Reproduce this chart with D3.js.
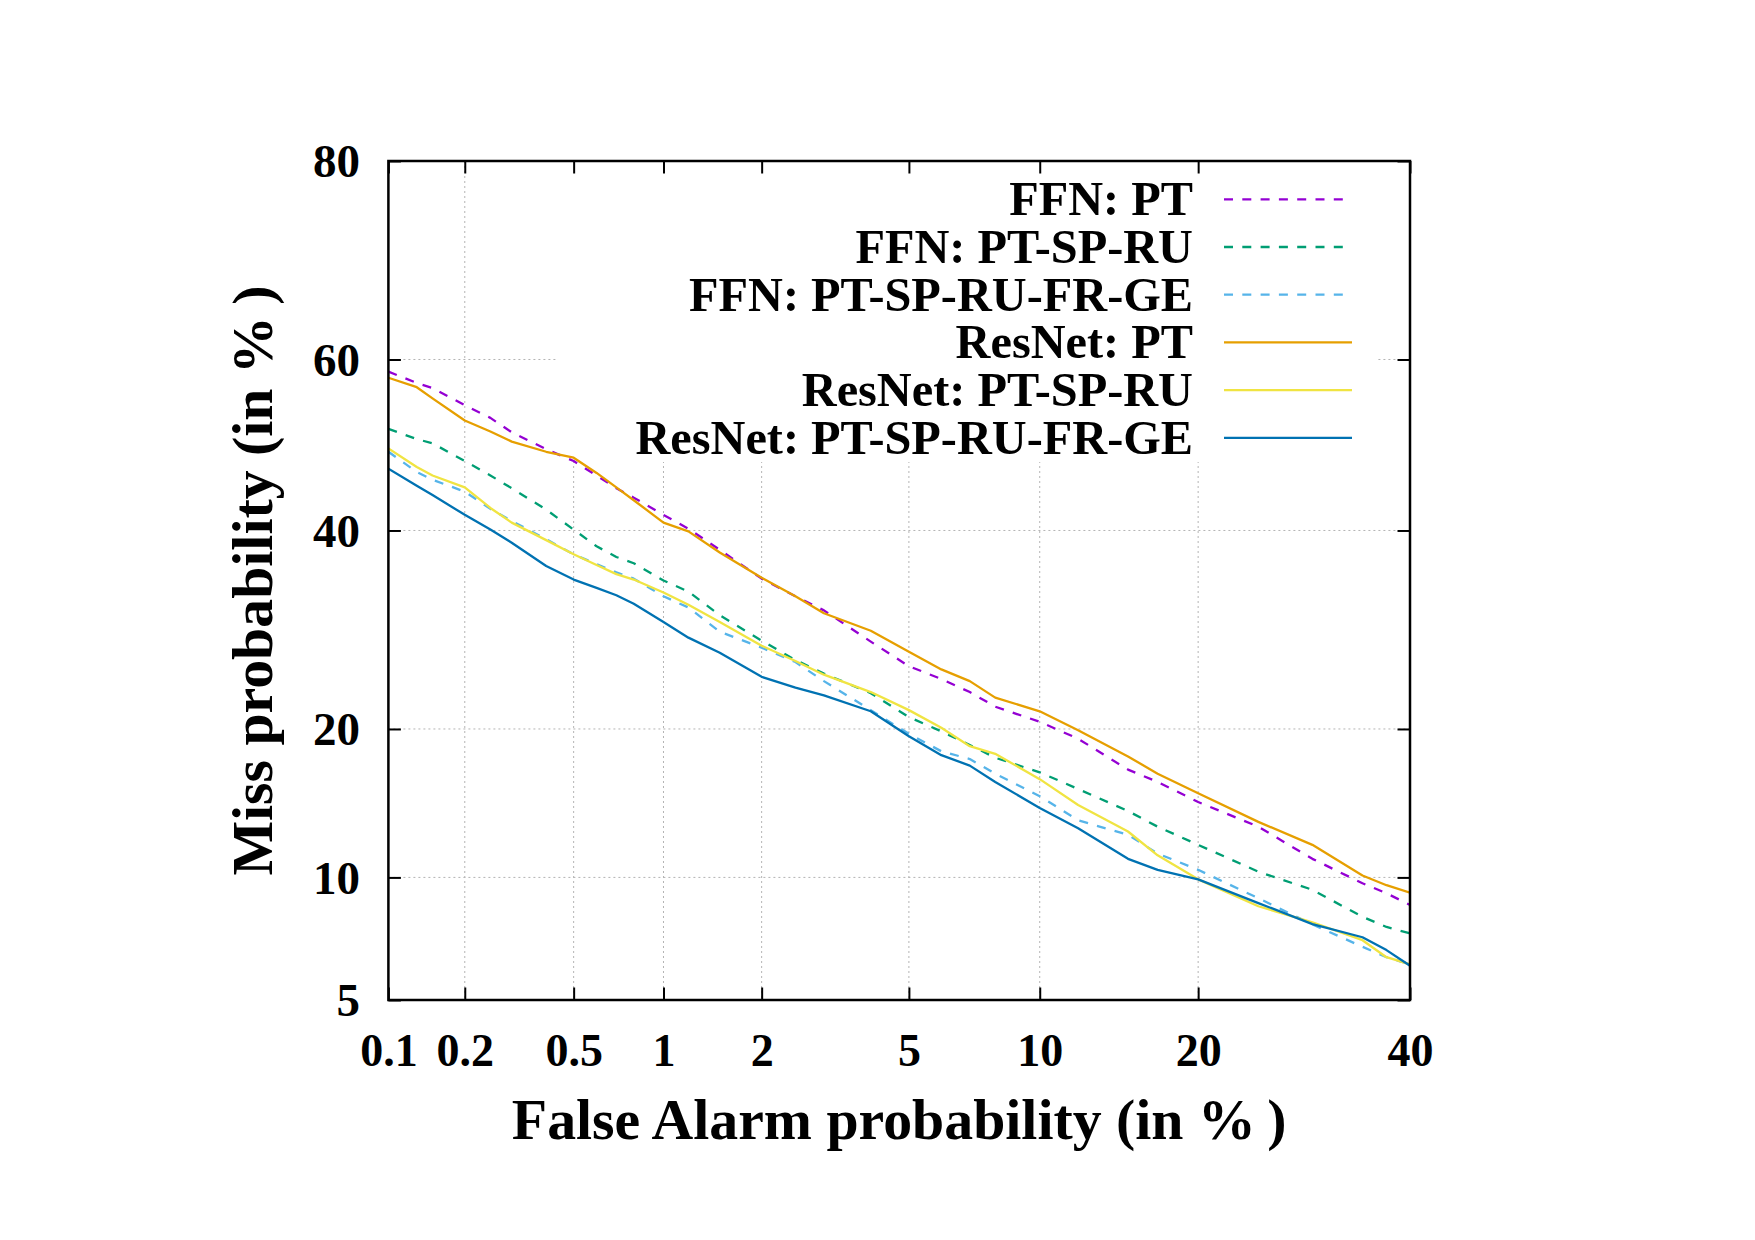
<!DOCTYPE html>
<html>
<head>
<meta charset="utf-8">
<script src="https://cdn.jsdelivr.net/npm/d3@7"></script>
<style>
  body { margin: 0; background: #fff; }
  svg text { font-family: "Liberation Serif", "Times New Roman", serif; font-weight: bold; fill: #000; }
</style>
</head>
<body>
<div id="chart"></div>
<script>
// ---- Data (false alarm % on x, miss % on y) ----
const faValues = [0.1, 0.13, 0.15, 0.2, 0.25, 0.3, 0.4, 0.5, 0.6, 0.7, 0.8, 1, 1.2, 1.5, 2, 2.5, 3, 4, 5, 6, 7, 8, 10, 12, 15, 17, 20, 25, 30, 35, 37.5, 40];

const ffnPT =          [58.6, 57.3, 56.7, 54.7, 53.2, 51.5, 49.5, 48.1, 46.4, 44.9, 43.8, 41.8, 40.2, 37.8, 34.6, 32.7, 31.2, 28.0, 25.6, 24.4, 23.2, 21.9, 20.6, 19.2, 16.8, 15.9, 14.5, 12.9, 11.0, 9.7, 9.2, 8.64];
const ffnPTSPRU =      [51.9, 50.7, 50.2, 48.1, 46.4, 44.9, 42.4, 40.1, 38.2, 37.0, 36.3, 34.4, 33.2, 30.7, 28.1, 26.2, 24.9, 23.1, 21.0, 19.8, 18.7, 17.7, 16.6, 15.4, 13.9, 12.9, 11.8, 10.3, 9.37, 8.1, 7.66, 7.39];
const ffnPTSPRUFRGE =  [49.2, 46.8, 45.9, 44.5, 42.5, 41.1, 39.0, 37.3, 36.2, 35.3, 34.6, 32.7, 31.5, 29.0, 27.4, 26.0, 24.2, 21.6, 19.6, 18.2, 17.6, 16.5, 14.9, 13.3, 12.4, 11.3, 10.4, 8.96, 7.77, 6.85, 6.45, 6.19];
const resPT =          [57.9, 56.8, 55.5, 52.9, 51.6, 50.4, 49.2, 48.5, 46.7, 45.0, 43.5, 40.9, 39.9, 37.5, 34.7, 32.7, 30.9, 29.1, 27.0, 25.3, 24.2, 22.7, 21.5, 19.9, 17.8, 16.5, 15.1, 13.2, 11.8, 10.1, 9.6, 9.23];
const resPTSPRU =      [49.6, 47.4, 46.4, 45.0, 42.6, 40.9, 38.9, 37.3, 36.1, 35.1, 34.5, 33.1, 31.8, 30.0, 27.6, 26.1, 24.8, 23.2, 21.6, 20.1, 18.6, 18.0, 16.1, 14.3, 12.6, 11.2, 9.9, 8.58, 7.86, 7.11, 6.45, 6.19];
const resPTSPRUFRGE =  [47.2, 45.2, 44.1, 41.8, 40.1, 38.6, 36.0, 34.5, 33.6, 32.8, 31.9, 30.0, 28.4, 26.9, 24.6, 23.6, 22.9, 21.5, 19.4, 17.9, 17.1, 15.9, 14.1, 12.8, 11.0, 10.4, 9.9, 8.73, 7.78, 7.23, 6.72, 6.14];

const seriesNames = ['FFN: PT', 'FFN: PT-SP-RU', 'FFN: PT-SP-RU-FR-GE', 'ResNet: PT', 'ResNet: PT-SP-RU', 'ResNet: PT-SP-RU-FR-GE'];
const seriesValues = [ffnPT, ffnPTSPRU, ffnPTSPRUFRGE, resPT, resPTSPRU, resPTSPRUFRGE];

const xTicks = [0.1, 0.2, 0.5, 1, 2, 5, 10, 20, 40];
const xTickLabels = ['0.1', '0.2', '0.5', '1', '2', '5', '10', '20', '40'];
const yTicks = [5, 10, 20, 40, 60, 80];
const yTickLabels = ['5', '10', '20', '40', '60', '80'];

// ---- Styles ----
const colors = ['#9400d3', '#009e73', '#56b4e9', '#e69f00', '#f0e442', '#0072b2'];
const dashed = [true, true, true, false, false, false];

// ---- Probit (inverse normal CDF, Acklam) ----
function probit(p) {
  const a = [-3.969683028665376e+01, 2.209460984245205e+02, -2.759285104469687e+02, 1.383577518672690e+02, -3.066479806614716e+01, 2.506628277459239e+00];
  const b = [-5.447609879822406e+01, 1.615858368580409e+02, -1.556989798598866e+02, 6.680131188771972e+01, -1.328068155288572e+01];
  const c = [-7.784894002430293e-03, -3.223964580411365e-01, -2.400758277161838e+00, -2.549732539343734e+00, 4.374664141464968e+00, 2.938163982698783e+00];
  const d = [7.784695709041462e-03, 3.224671290700398e-01, 2.445134137142996e+00, 3.754408661907416e+00];
  const pLow = 0.02425;
  let q, r;
  if (p < pLow) {
    q = Math.sqrt(-2 * Math.log(p));
    return (((((c[0]*q+c[1])*q+c[2])*q+c[3])*q+c[4])*q+c[5]) / ((((d[0]*q+d[1])*q+d[2])*q+d[3])*q+1);
  }
  if (p <= 1 - pLow) {
    q = p - 0.5; r = q * q;
    return (((((a[0]*r+a[1])*r+a[2])*r+a[3])*r+a[4])*r+a[5])*q / (((((b[0]*r+b[1])*r+b[2])*r+b[3])*r+b[4])*r+1);
  }
  q = Math.sqrt(-2 * Math.log(1 - p));
  return -(((((c[0]*q+c[1])*q+c[2])*q+c[3])*q+c[4])*q+c[5]) / ((((d[0]*q+d[1])*q+d[2])*q+d[3])*q+1);
}
const pz = v => probit(v / 100);

// ---- Layout ----
const W = 1755, H = 1240;
const plot = { left: 388.4, right: 1410, top: 161, bottom: 1000 };
const innerW = plot.right - plot.left;
const innerH = plot.bottom - plot.top;

const svg = d3.select('#chart').append('svg')
  .attr('width', W).attr('height', H)
  .attr('viewBox', `0 0 ${W} ${H}`);

svg.append('rect').attr('width', W).attr('height', H).attr('fill', '#fff');

const g = svg.append('g').attr('transform', `translate(${plot.left},${plot.top})`);

// ---- Scales (linear on probit-transformed values) ----
const xLin = d3.scaleLinear().domain([pz(0.1), pz(40)]).range([0, innerW]);
const yLin = d3.scaleLinear().domain([pz(5), pz(80)]).range([innerH, 0]);
const x = v => xLin(pz(v));
const y = v => yLin(pz(v));

// ---- Grid ----
const grid = g.append('g')
  .attr('stroke', '#b4b4b4')
  .attr('stroke-width', 1)
  .attr('stroke-dasharray', '2 3');

grid.selectAll('.gx').data(xTicks.slice(1, -1)).join('line')
  .attr('x1', d => x(d)).attr('x2', d => x(d))
  .attr('y1', 0).attr('y2', innerH);

grid.selectAll('.gy').data(yTicks.slice(1, -1)).join('line')
  .attr('x1', 0).attr('x2', innerW)
  .attr('y1', d => y(d)).attr('y2', d => y(d));

// ---- Key background (hides the grid behind the key) ----
const key = { left: 558 - plot.left, right: 1377 - plot.left, top: 0, bottom: 462 - plot.top };
g.append('rect')
  .attr('x', key.left).attr('y', key.top)
  .attr('width', key.right - key.left).attr('height', key.bottom - key.top)
  .attr('fill', '#fff');

// ---- Curves ----
svg.append('defs').append('clipPath').attr('id', 'plotClip')
  .append('rect').attr('width', innerW).attr('height', innerH);

const lineGen = d3.line()
  .x(d => x(d[0]))
  .y(d => y(d[1]));

g.append('g').attr('clip-path', 'url(#plotClip)')
  .selectAll('path')
  .data(seriesValues)
  .join('path')
  .attr('d', vals => lineGen(vals.map((v, i) => [faValues[i], v])))
  .attr('fill', 'none')
  .attr('stroke', (_, i) => colors[i])
  .attr('stroke-width', 2.3)
  .attr('stroke-linejoin', 'round')
  .attr('stroke-dasharray', (_, i) => dashed[i] ? '9 9.3' : null);

// ---- Axes (ticks pointing inward, mirrored) ----
const tickLen = 12.5;
const xTickZ = xTicks.map(pz);
const yTickZ = yTicks.map(pz);

const styleAxis = sel => {
  sel.select('.domain').remove();
  sel.selectAll('.tick line').attr('stroke', '#000').attr('stroke-width', 2);
};

const xAxis = g.append('g')
  .attr('transform', `translate(0,${innerH})`)
  .call(d3.axisBottom(xLin).tickValues(xTickZ).tickFormat((_, i) => xTickLabels[i])
    .tickSizeInner(-tickLen).tickSizeOuter(0).tickPadding(65.5))
  .call(styleAxis);
xAxis.selectAll('.tick text')
  .attr('dy', null)
  .attr('font-size', 46)
  .attr('fill', '#000');

g.append('g')
  .call(d3.axisTop(xLin).tickValues(xTickZ).tickFormat('').tickSizeInner(-tickLen).tickSizeOuter(0))
  .call(styleAxis);

const yAxis = g.append('g')
  .call(d3.axisLeft(yLin).tickValues(yTickZ).tickFormat((_, i) => yTickLabels[i])
    .tickSizeInner(-tickLen).tickSizeOuter(0).tickPadding(28.5))
  .call(styleAxis);
yAxis.selectAll('.tick text')
  .attr('dy', '0.34em')
  .attr('font-size', 47)
  .attr('fill', '#000');

g.append('g')
  .attr('transform', `translate(${innerW},0)`)
  .call(d3.axisRight(yLin).tickValues(yTickZ).tickFormat('').tickSizeInner(-tickLen).tickSizeOuter(0))
  .call(styleAxis);

// ---- Border ----
g.append('rect')
  .attr('width', innerW).attr('height', innerH)
  .attr('fill', 'none')
  .attr('stroke', '#000')
  .attr('stroke-width', 2.5);

// ---- Key ----
const keyTextRight = 1193 - plot.left;
const keySample = [1224 - plot.left, 1352 - plot.left];
const keyRow0 = 199.3 - plot.top, keyStep = 47.7;

const rows = g.append('g').selectAll('g')
  .data(seriesNames)
  .join('g')
  .attr('transform', (_, i) => `translate(0,${keyRow0 + i * keyStep})`);

rows.append('text')
  .attr('x', keyTextRight)
  .attr('y', 16)
  .attr('text-anchor', 'end')
  .attr('font-size', 48.3)
  .text(d => d);

rows.append('line')
  .attr('x1', keySample[0]).attr('x2', keySample[1])
  .attr('y1', 0).attr('y2', 0)
  .attr('stroke', (_, i) => colors[i])
  .attr('stroke-width', 2.3)
  .attr('stroke-dasharray', (_, i) => dashed[i] ? '9 9.3' : null);

// ---- Axis titles ----
svg.append('text')
  .attr('x', (plot.left + plot.right) / 2)
  .attr('y', 1139)
  .attr('text-anchor', 'middle')
  .attr('font-size', 57.8)
  .text('False Alarm probability (in %\u2009)');

svg.append('text')
  .attr('transform', `translate(272,${(plot.top + plot.bottom) / 2}) rotate(-90)`)
  .attr('text-anchor', 'middle')
  .attr('font-size', 57.8)
  .text('Miss probability (in %\u2009)');
</script>
</body>
</html>
